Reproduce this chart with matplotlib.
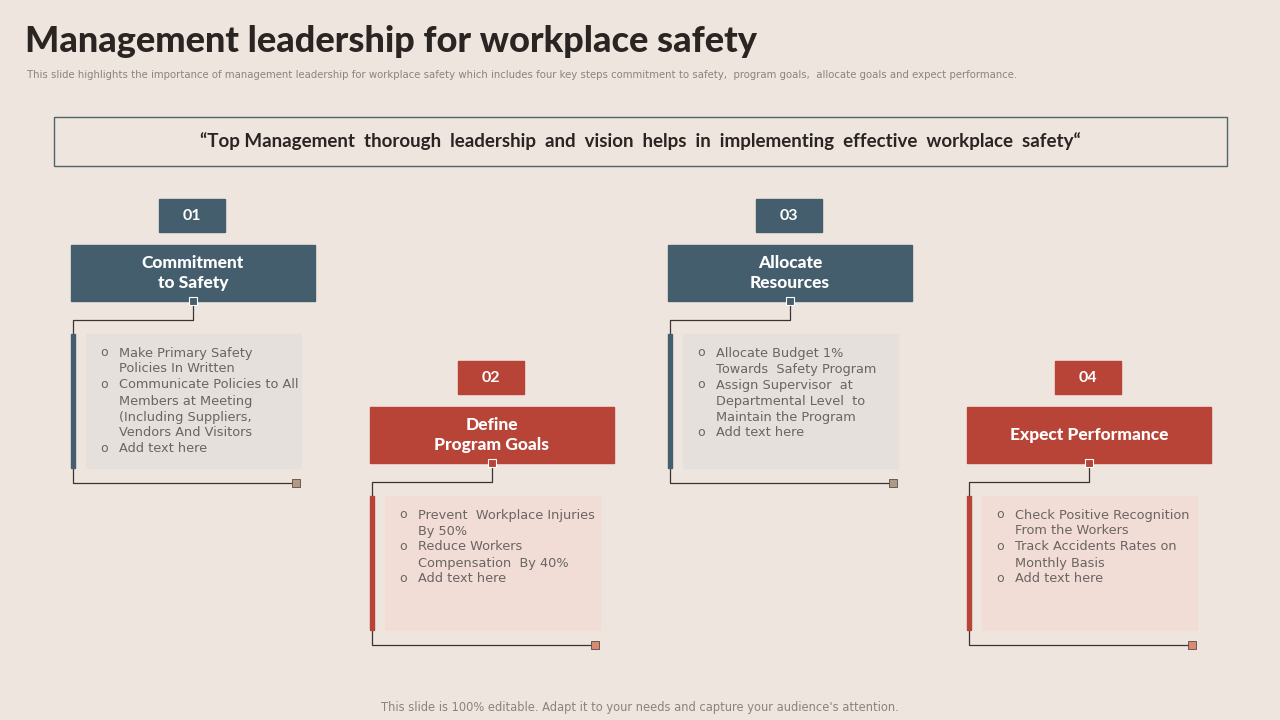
import matplotlib.pyplot as plt
from matplotlib.patches import Rectangle

# slide content
step_numbers = ['01', '02', '03', '04']
step_titles = ['Commitment\nto Safety', 'Define\nProgram Goals', 'Allocate\nResources', 'Expect Performance']
step_bullets = [
    [['Make Primary Safety', 'Policies In Written'],
     ['Communicate Policies to All', 'Members at Meeting', '(Including Suppliers,', 'Vendors And Visitors'],
     ['Add text here']],
    [['Prevent  Workplace Injuries', 'By 50%'],
     ['Reduce Workers', 'Compensation  By 40%'],
     ['Add text here']],
    [['Allocate Budget 1%', 'Towards  Safety Program'],
     ['Assign Supervisor  at', 'Departmental Level  to', 'Maintain the Program'],
     ['Add text here']],
    [['Check Positive Recognition', 'From the Workers'],
     ['Track Accidents Rates on', 'Monthly Basis'],
     ['Add text here']],
]
step_colors = ['#445e6d', '#b84337', '#445e6d', '#b84337']
box_colors = ['#e6e0dc', '#f1ddd6', '#e6e0dc', '#f1ddd6']
end_colors = ['#b09a86', '#d98a73', '#b09a86', '#d98a73']

BG = '#efe5df'
fig = plt.figure(figsize=(12.8, 7.2), dpi=100, facecolor=BG)
ax = fig.add_axes([0, 0, 1, 1])
ax.set_xlim(0, 1280)
ax.set_ylim(720, 0)
ax.axis('off')
ax.set_facecolor(BG)

ax.text(25, 42, 'Management leadership for workplace safety', fontsize=26, fontweight='heavy',
        family='Lato', color='#2a2522', va='center')
ax.text(27, 75, 'This slide highlights the importance of management leadership for workplace safety which includes four key steps commitment to safety,  program goals,  allocate goals and expect performance.',
        fontsize=7.3, color='#8a8380', va='center')

ax.add_patch(Rectangle((54, 117), 1173, 49, fill=False, ec='#4f6369', lw=1))
ax.text(640, 141, '\u201cTop Management  thorough  leadership  and  vision  helps  in  implementing  effective  workplace  safety\u201c',
        fontsize=13.5, fontweight='bold', family='Lato', color='#2a2522', ha='center', va='center')

x_offsets = [71, 370, 668, 967]
y_offsets = [0, 162, 0, 162]
for i in range(4):
    x0, dy = x_offsets[i], y_offsets[i]
    c = step_colors[i]
    # number tab
    ax.add_patch(Rectangle((x0 + 88, 199 + dy), 66, 33, color=c))
    ax.text(x0 + 121, 216 + dy, step_numbers[i], color='white', fontsize=11.5, fontweight='bold',
            family='Lato', ha='center', va='center')
    # title box
    ax.add_patch(Rectangle((x0, 245 + dy), 244, 56, color=c))
    ax.text(x0 + 122, 273 + dy, step_titles[i], color='white', fontsize=12.5, fontweight='heavy',
            family='Lato', ha='center', va='center', linespacing=1.25)
    # connector
    cx = x0 + 122
    ax.plot([cx, cx, x0 + 2, x0 + 2, x0 + 225], [301 + dy, 320 + dy, 320 + dy, 483 + dy, 483 + dy],
            color='#3a3533', lw=0.9, zorder=1)
    ax.add_patch(Rectangle((cx - 4, 297 + dy), 8, 8, fc=c, ec='white', lw=0.8, zorder=3))
    ax.add_patch(Rectangle((x0 + 221, 479 + dy), 8, 8, fc=end_colors[i], ec='#5a4a40', lw=0.6, zorder=3))
    # text panel
    ax.add_patch(Rectangle((x0, 334 + dy), 3.5, 134, color=c, zorder=2))
    ax.add_patch(Rectangle((x0 + 15, 334 + dy), 215, 134, color=box_colors[i], zorder=2))
    y = 353 + dy
    for bullet in step_bullets[i]:
        ax.text(x0 + 29, y, 'o', fontsize=9, color='#6a6462', va='center', zorder=4)
        for line in bullet:
            ax.text(x0 + 48, y, line, fontsize=9.3, color='#6a6462', va='center', zorder=4)
            y += 16

ax.text(640, 708, "This slide is 100% editable. Adapt it to your needs and capture your audience's attention.",
        fontsize=8.3, color='#8a8380', ha='center', va='center')

fig.savefig('out.png', dpi=100, facecolor=BG)
